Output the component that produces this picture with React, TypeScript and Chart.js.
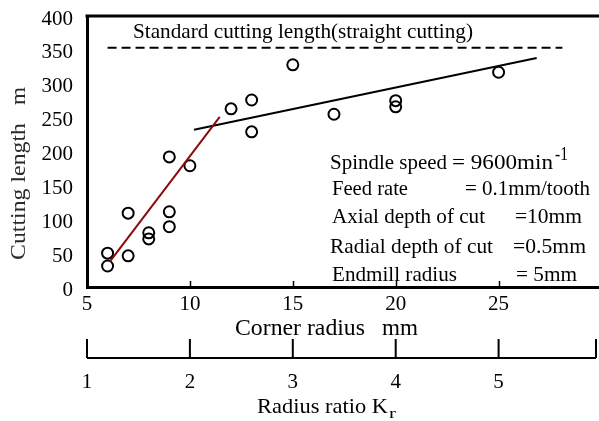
import React, { useEffect, useRef } from 'react';
import { Chart, registerables } from 'chart.js';

Chart.register(...registerables);

// ---- data ----
const cornerRadius = [6, 6, 7, 7, 8, 8, 9, 9, 9, 10, 12, 13, 13, 15, 17, 20, 20, 25];
const cuttingLength = [50, 31, 109, 46, 80, 71, 192, 111, 89, 179, 263, 276, 229, 328, 255, 275, 266, 317];
const redFitX = [6.1, 11.45];
const redFitY = [37, 251];
const blackFitX = [10.2, 26.85];
const blackFitY = [232, 338];
const standardX = [6, 28.1];
const standardY = [353, 353];
const xTicks = [5, 10, 15, 20, 25];
const yTicks = [0, 50, 100, 150, 200, 250, 300, 350, 400];
const krTicks = [1, 2, 3, 4, 5];
const krEnd = 6;
const endmillRadius = 5;
const standardLabel = 'Standard cutting length(straight cutting)';
const conditionLabels = ['Spindle speed', 'Feed rate', 'Axial depth of cut', 'Radial depth of cut', 'Endmill radius'];
const conditionValues = ['= 9600min', '= 0.1mm/tooth', '=10mm', '=0.5mm', '= 5mm'];
const spindleExponent = '-1';
const xTitle = ['Corner radius', 'mm'];
const yTitle = ['Cutting length', 'm'];
const krTitle = ['Radius ratio K', 'r'];

const FONT = "'Liberation Serif', 'Times New Roman', serif";
const VIEW_W = 599;

function fitText(ctx: CanvasRenderingContext2D, text: string, x: number, y: number, w: number, size: number) {
  ctx.save();
  ctx.font = `${size}px ${FONT}`;
  ctx.textAlign = 'left';
  ctx.textBaseline = 'alphabetic';
  const m = ctx.measureText(text).width || 1;
  ctx.translate(x, y);
  ctx.scale(w / m, 1);
  ctx.fillText(text, 0, 0);
  ctx.restore();
}

const decorPlugin = {
  id: 'decor',
  afterDraw(chart: any) {
    const ctx: CanvasRenderingContext2D = chart.ctx;
    const area = chart.chartArea;
    const xs = chart.scales.x;
    ctx.save();
    ctx.fillStyle = '#000';
    ctx.strokeStyle = '#000';

    // top border
    ctx.lineWidth = 3;
    ctx.beginPath();
    ctx.moveTo(area.left - 1.5, area.top);
    ctx.lineTo(chart.width, area.top);
    ctx.stroke();

    // inward x ticks
    ctx.lineWidth = 1.5;
    xTicks.slice(1).forEach((v) => {
      const px = Math.round(xs.getPixelForValue(v)) + 0.5;
      ctx.beginPath();
      ctx.moveTo(px, area.bottom);
      ctx.lineTo(px, area.bottom - 6);
      ctx.stroke();
    });

    // standard label
    fitText(ctx, standardLabel, 133, 38, 340, 21);

    // conditions
    const lx = [330, 332, 332, 330, 332];
    const lw = [117, 76, 153, 163, 125];
    const vx = [452, 465, 515, 513, 516];
    const vw = [101, 125, 67, 73, 61];
    const by = [169, 195, 223, 253, 281];
    conditionLabels.forEach((t, i) => {
      fitText(ctx, t, lx[i], by[i], lw[i], 21);
      fitText(ctx, conditionValues[i], vx[i], by[i], vw[i], 21);
    });
    fitText(ctx, spindleExponent, 555, 160, 13, 18);

    // x title
    fitText(ctx, xTitle[0], 235, 335, 130, 23);
    fitText(ctx, xTitle[1], 382, 335, 36, 23);

    // Kr axis
    const baseY = 358;
    ctx.lineWidth = 2;
    const k0 = xs.getPixelForValue(krTicks[0] * endmillRadius);
    const kEnd = Math.min(xs.getPixelForValue(krEnd * endmillRadius) - 2, VIEW_W - 3);
    ctx.beginPath();
    ctx.moveTo(k0, baseY);
    ctx.lineTo(kEnd, baseY);
    ctx.stroke();
    [...krTicks.map((k) => xs.getPixelForValue(k * endmillRadius)), kEnd].forEach((px) => {
      ctx.beginPath();
      ctx.moveTo(px, baseY);
      ctx.lineTo(px, baseY - 19);
      ctx.stroke();
    });
    ctx.font = `21px ${FONT}`;
    ctx.textAlign = 'center';
    ctx.textBaseline = 'alphabetic';
    krTicks.forEach((k) => {
      ctx.fillText(String(k), xs.getPixelForValue(k * endmillRadius), 388);
    });
    fitText(ctx, krTitle[0], 257, 413, 131, 22);
    fitText(ctx, krTitle[1], 389, 418, 7, 15);

    // y title (rotated)
    ctx.save();
    ctx.fillStyle = '#2a2a2a';
    ctx.translate(17.5, 0);
    ctx.rotate(-Math.PI / 2);
    fitText(ctx, yTitle[0], -260, 7, 137, 22);
    fitText(ctx, yTitle[1], -105, 7, 18, 22);
    ctx.restore();

    ctx.restore();
  },
};

export default function App() {
  const ref = useRef<HTMLCanvasElement>(null);
  useEffect(() => {
    if (!ref.current) return;
    const pts = cornerRadius.map((x, i) => ({ x, y: cuttingLength[i] }));
    const chart = new Chart(ref.current, {
      type: 'scatter',
      data: {
        datasets: [
          {
            type: 'line',
            data: standardX.map((x, i) => ({ x, y: standardY[i] })),
            borderColor: '#000',
            borderWidth: 2,
            borderDash: [9, 5],
            pointRadius: 0,
            fill: false,
          } as any,
          {
            type: 'line',
            data: redFitX.map((x, i) => ({ x, y: redFitY[i] })),
            borderColor: '#8b0a0a',
            borderWidth: 2,
            pointRadius: 0,
            fill: false,
          } as any,
          {
            type: 'line',
            data: blackFitX.map((x, i) => ({ x, y: blackFitY[i] })),
            borderColor: '#000',
            borderWidth: 2,
            pointRadius: 0,
            fill: false,
          } as any,
          {
            data: pts,
            pointStyle: 'circle',
            pointRadius: 5.5,
            pointBorderWidth: 2,
            borderColor: '#000',
            backgroundColor: 'rgba(0,0,0,0)',
            showLine: false,
          } as any,
        ],
      },
      options: {
        responsive: false,
        animation: false,
        devicePixelRatio: 1,
        layout: { padding: { top: 16, right: 1, left: 0, bottom: 0 } },
        plugins: { legend: { display: false }, tooltip: { enabled: false } },
        scales: {
          x: {
            type: 'linear',
            min: 5,
            max: 30,
            afterFit: (s: any) => {
              s.height = 134;
              s.paddingLeft = 0;
              s.paddingRight = 0;
              s.paddingTop = 0;
              s.paddingBottom = 0;
            },
            afterBuildTicks: (s: any) => { s.ticks = xTicks.map((v) => ({ value: v })); },
            grid: { display: false, drawTicks: false },
            border: { display: true, color: '#000', width: 3 },
            ticks: {
              color: '#000',
              font: { family: FONT, size: 21 },
              padding: 5,
              maxRotation: 0,
              autoSkip: false,
            },
          },
          y: {
            type: 'linear',
            min: 0,
            max: 400,
            afterFit: (s: any) => {
              s.width = 87;
              s.paddingLeft = 0;
              s.paddingRight = 0;
              s.paddingTop = 0;
              s.paddingBottom = 0;
            },
            afterBuildTicks: (s: any) => { s.ticks = yTicks.map((v) => ({ value: v })); },
            grid: { display: false, drawTicks: false },
            border: { display: true, color: '#000', width: 3 },
            ticks: {
              color: '#000',
              font: { family: FONT, size: 21 },
              padding: 14,
              labelOffset: 3,
              autoSkip: false,
            },
          },
        },
      } as any,
      plugins: [decorPlugin],
    });
    return () => chart.destroy();
  }, []);
  return (
    <div style={{ position: 'absolute', left: 0, top: 0, width: VIEW_W, height: 421, overflow: 'hidden', background: '#fff' }}>
      <canvas ref={ref} width={609} height={421} style={{ display: 'block' }} />
    </div>
  );
}
